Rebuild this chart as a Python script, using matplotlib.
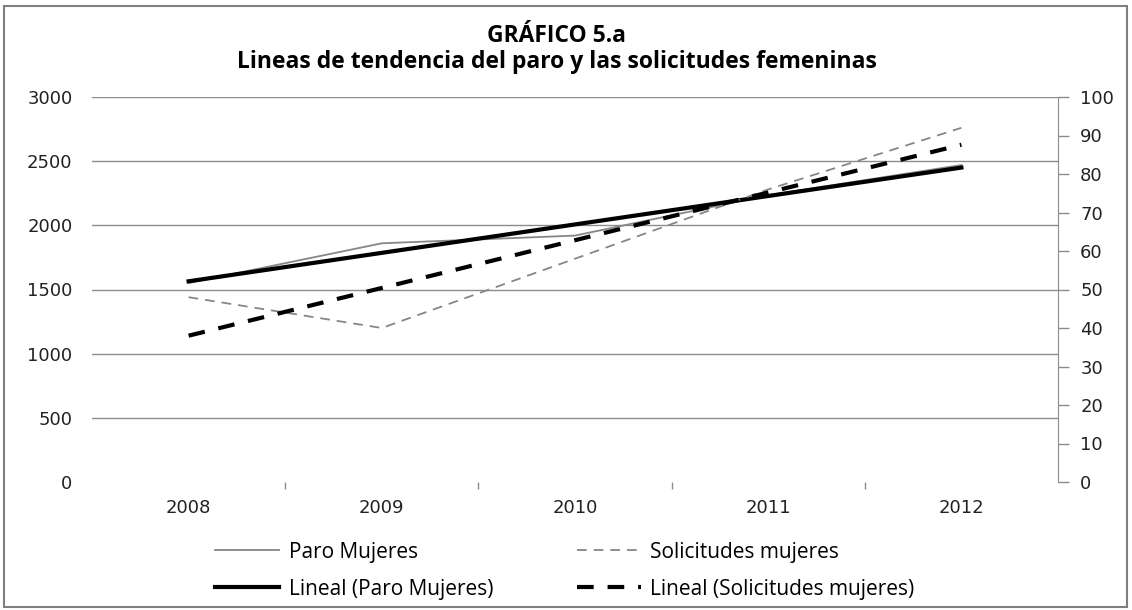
import numpy as np
import matplotlib
matplotlib.use('Agg')
import matplotlib.pyplot as plt
from matplotlib.patches import Rectangle

# data
years = ['2008', '2009', '2010', '2011', '2012']
paro_mujeres = [1550, 1860, 1920, 2235, 2470]
solicitudes_mujeres = [48, 40, 58, 76, 92]

x = np.arange(len(years))
# excel style linear trend lines (least squares)
paro_fit = np.polyval(np.polyfit(x, paro_mujeres, 1), x)
sol_fit = np.polyval(np.polyfit(x, solicitudes_mujeres, 1), x)

plt.rcParams['lines.scale_dashes'] = False
grid_col = '#8c8c8c'
label_font = 'DejaVu Sans'
text_font = 'Open Sans'

fig = plt.figure(figsize=(11.32, 6.10), dpi=100)
ax = fig.add_axes([92/1132, 1-482/610, (1058-92)/1132, (482-97)/610])
ax2 = ax.twinx()

# left axis
ax.set_xlim(-0.5, 4.5)
ax.set_ylim(0, 3000)
ax.set_yticks(np.arange(0, 3001, 500))
for v in range(500, 3001, 500):
    ax.axhline(v, color=grid_col, lw=1.0, zorder=0)
for s in ax.spines.values():
    s.set_visible(False)
ax.tick_params(axis='y', length=0, pad=14, labelsize=13, labelcolor='#222222')
ax.set_xticks(x)
ax.set_xticklabels(years)
ax.set_xticks(x[:-1] + 0.5, minor=True)
ax.tick_params(axis='x', which='major', length=0, pad=12, labelsize=13, labelcolor='#222222')
ax.tick_params(axis='x', which='minor', length=5, width=1, color=grid_col, direction='out')
for lab in ax.get_xticklabels() + ax.get_yticklabels():
    lab.set_family(label_font)

# right axis
ax2.set_ylim(0, 100)
ax2.set_yticks(np.arange(0, 101, 10))
for k, s in ax2.spines.items():
    s.set_visible(k == 'right')
ax2.spines['right'].set_color(grid_col)
ax2.tick_params(axis='y', length=8, width=1, color=grid_col, pad=8, labelsize=13, labelcolor='#222222')
for lab in ax2.get_yticklabels():
    lab.set_family(label_font)

# series
l1, = ax.plot(x, paro_mujeres, color='#868686', lw=1.3, label='Paro Mujeres', zorder=3)
l2, = ax.plot(x, paro_fit, color='black', lw=3.0, label='Lineal (Paro Mujeres)', zorder=4)
l3, = ax2.plot(x, solicitudes_mujeres, color='#868686', lw=1.3, dashes=(7, 5), label='Solicitudes mujeres', zorder=3)
l4, = ax2.plot(x, sol_fit, color='black', lw=3.0, dashes=(12, 10), label='Lineal (Solicitudes mujeres)', zorder=4)

# titles
fig.text(0.492, 1-42/610, 'GRÁFICO 5.a', ha='center', va='baseline',
         family=text_font, fontweight='bold', fontsize=16.5)
fig.text(0.492, 1-68/610, 'Lineas de tendencia del paro y las solicitudes femeninas',
         ha='center', va='baseline', family=text_font, fontweight='bold', fontsize=16.5)

# legend
fig.legend(handles=[l1, l2, l3, l4], ncol=2, frameon=False,
           loc='upper left', bbox_to_anchor=(196/1132, 1-523/610),
           prop={'family': text_font, 'size': 15}, handlelength=3.1,
           handletextpad=0.45, columnspacing=4.0, labelspacing=0.76)

# outer chart border
fig.patches.append(Rectangle((4/1132, 3/610), 1123/1132, 601/610, transform=fig.transFigure,
                             fill=False, edgecolor='#7f7f7f', lw=1.5))

fig.savefig('out.png', dpi=100)
